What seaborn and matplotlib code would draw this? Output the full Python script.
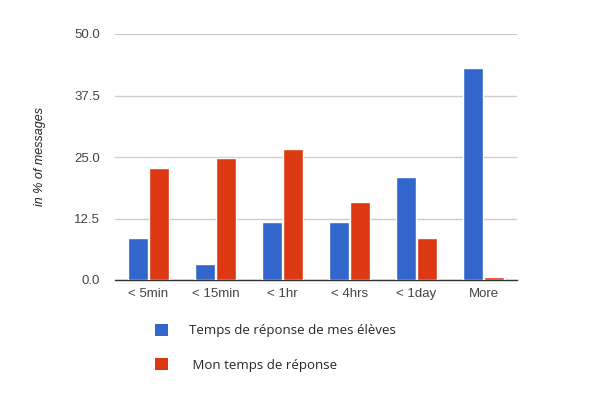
import pandas as pd
import matplotlib.pyplot as plt
import seaborn as sns
from matplotlib.patches import Patch

categories = ['< 5min', '< 15min', '< 1hr', '< 4hrs', '< 1day', 'More']
students = [8.5, 3.3, 11.7, 11.7, 20.9, 43.1]
mine = [22.8, 24.7, 26.6, 15.9, 8.5, 0.6]
series_names = ['Temps de réponse de mes élèves', ' Mon temps de réponse']
y_ticks = [0.0, 12.5, 25.0, 37.5, 50.0]

colors = ['#3366cc', '#dc3912']

df = pd.DataFrame({
    'cat': categories * 2,
    'value': students + mine,
    'series': [series_names[0]] * len(categories) + [series_names[1]] * len(categories),
})

sns.set_theme(style="white")
plt.rcParams['font.family'] = ['Liberation Sans', 'DejaVu Sans']

fig = plt.figure(figsize=(5.94, 3.98), dpi=100)
ax = fig.add_axes([115 / 594, 1 - 280 / 398, 402 / 594, 246 / 398])

sns.barplot(data=df, x='cat', y='value', hue='series', palette=colors,
            width=0.62, gap=0.02, saturation=1, legend=False, ax=ax, zorder=3)

ax.set_ylim(0, 50)
ax.set_yticks(y_ticks)
ax.set_yticklabels([f'{t:.1f}' for t in y_ticks])
ax.yaxis.grid(True, color='#cccccc', linewidth=1)
ax.set_axisbelow(True)
for side in ['top', 'right', 'left']:
    ax.spines[side].set_visible(False)
ax.spines['bottom'].set_color('#333333')
ax.spines['bottom'].set_linewidth(1.0)
ax.spines['bottom'].set_zorder(2)
ax.tick_params(axis='both', length=0, labelsize=9.5, labelcolor='#444444')
ax.tick_params(axis='y', pad=11)
ax.tick_params(axis='x', pad=6)
ax.set_xlabel('')
ax.set_ylabel('in % of messages', fontsize=9, style='italic', color='#222222', labelpad=20)

handles = [Patch(facecolor=c, edgecolor='none') for c in colors]
fig.legend(handles, series_names, loc='upper left', bbox_to_anchor=(143 / 594, 1 - 312 / 398),
           frameon=False, handlelength=1.0, handleheight=1.0, handletextpad=1.6,
           labelspacing=1.6, prop={'family': 'Open Sans', 'size': 9.5})

plt.savefig('out.png', dpi=100)
plt.close()
